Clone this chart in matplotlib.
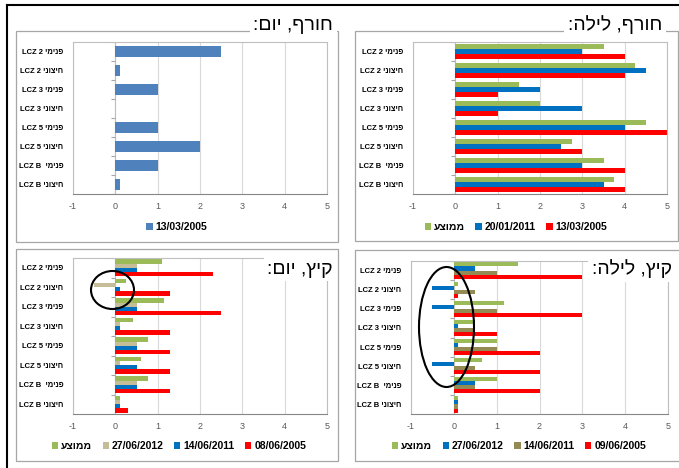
import re
import numpy as np
import matplotlib
matplotlib.use('Agg')
import matplotlib.pyplot as plt
from matplotlib.patches import Patch, Rectangle, Ellipse
from matplotlib.lines import Line2D

plt.rcParams['font.family'] = ['Liberation Sans', 'DejaVu Sans']
plt.rcParams['axes.unicode_minus'] = False

# category labels (logical Hebrew order)
categories = ['פנימי LCZ 2', 'חיצוני LCZ 2', 'פנימי LCZ 3', 'חיצוני LCZ 3',
              'פנימי LCZ 5', 'חיצוני LCZ 5', 'פנימי  LCZ B', 'חיצוני LCZ B']
avg_label = 'ממוצע'

# winter, day
wd_title = 'חורף, יום:'
wd_dates = ['13/03/2005']
wd_2005 = [2.5, 0.1, 1.0, 0.0, 1.0, 2.0, 1.0, 0.1]

# winter, night
wn_title = 'חורף, לילה:'
wn_dates = ['20/01/2011', '13/03/2005']
wn_avg = [3.5, 4.25, 1.5, 2.0, 4.5, 2.75, 3.5, 3.75]
wn_2011 = [3.0, 4.5, 2.0, 3.0, 4.0, 2.5, 3.0, 3.5]
wn_2005 = [4.0, 4.0, 1.0, 1.0, 5.0, 3.0, 4.0, 4.0]

# summer, day
sd_title = 'קיץ, יום:'
sd_dates = ['27/06/2012', '14/06/2011', '08/06/2005']
sd_avg = [1.1, 0.25, 1.15, 0.42, 0.76, 0.6, 0.76, 0.1]
sd_2012 = [0.5, -0.5, 0.5, 0.1, 0.5, 0.1, 0.5, 0.1]
sd_2011 = [0.5, 0.1, 0.5, 0.1, 0.5, 0.5, 0.5, 0.1]
sd_2005 = [2.3, 1.3, 2.5, 1.3, 1.3, 1.3, 1.3, 0.3]

# summer, night
sn_title = 'קיץ, לילה:'
sn_dates = ['27/06/2012', '14/06/2011', '09/06/2005']
sn_avg = [1.5, 0.1, 1.17, 0.5, 1.0, 0.65, 1.0, 0.1]
sn_2012 = [0.5, -0.5, -0.5, 0.1, 0.1, -0.5, 0.5, 0.1]
sn_2011 = [1.0, 0.5, 1.0, 0.5, 1.0, 0.5, 0.5, 0.1]
sn_2005 = [3.0, 0.1, 3.0, 1.0, 2.0, 2.0, 2.0, 0.1]

GREEN = '#9BBB59'
RED = '#FF0000'
BLUE = '#0070C0'
STEEL = '#4F81BD'
TAN = '#C4BD97'
OLIVE = '#948A54'

W, H = 679, 468


def fx(px):
    return px / W


def fy(py):
    return 1 - py / H


def vis(s):
    # no bidi lib: reverse the string, then put latin/digit runs back
    r = s[::-1]
    return re.sub(r'[A-Za-z0-9]+(?:[ ./][A-Za-z0-9]+)*', lambda m: m.group(0)[::-1], r)


fig = plt.figure(figsize=(W / 100, H / 100), dpi=100)


def panel(x0, y0, x1, y1):
    fig.add_artist(Rectangle((fx(x0), fy(y1)), fx(x1) - fx(x0), fy(y0) - fy(y1),
                             transform=fig.transFigure, fill=False,
                             edgecolor='#A6A6A6', lw=0.9, zorder=0))


def chart(box, series, colors, group):
    x0, y0, x1, y1 = box
    ax = fig.add_axes([fx(x0), fy(y1), fx(x1) - fx(x0), fy(y0) - fy(y1)])
    y = np.arange(len(categories))
    n = len(series)
    h = group / n
    for j, (vals, c) in enumerate(zip(series, colors)):
        ax.barh(y - group / 2 + h * (j + 0.5), vals, height=h, color=c, zorder=2)
    ax.set_xlim(-1, 5)
    ax.set_ylim(len(categories) - 0.5, -0.5)
    ax.set_xticks(range(-1, 6))
    ax.set_yticks(y, [vis(c) for c in categories], fontsize=5.5, fontweight='bold')
    ax.tick_params(axis='y', length=0, pad=7)
    ax.tick_params(axis='x', length=0, pad=6, labelsize=6.5, labelcolor='#595959')
    ax.grid(axis='x', color='#D9D9D9', lw=0.8)
    ax.set_axisbelow(True)
    for s in ax.spines.values():
        s.set_color('#BFBFBF')
        s.set_linewidth(0.8)
    ax.spines['bottom'].set_color('#868686')
    # vertical axis at 0 with category tick marks
    ax.axvline(0, color='#BFBFBF', lw=0.8, zorder=1)
    ax.plot(np.zeros(len(categories) + 1), np.arange(len(categories) + 1) - 0.5,
            ls='none', marker=0, ms=3, mew=0.8, color='#A6A6A6', zorder=1)
    return ax


def legend(cx, cy, labels, colors):
    handles = [Patch(facecolor=c) for c in colors]
    fig.legend(handles, labels, loc='center', bbox_to_anchor=(fx(cx), fy(cy)),
               ncol=len(labels), frameon=False, handlelength=0.6, handleheight=0.6,
               handletextpad=0.3, columnspacing=1.0,
               prop={'weight': 'bold', 'size': 7.5})


def title(x, y, s):
    fig.text(fx(x), fy(y), vis(s), ha='right', va='center', fontsize=14,
             bbox=dict(facecolor='white', edgecolor='none', pad=2.5), zorder=6)


# outer frame
fig.add_artist(Line2D([fx(7), fx(7)], [fy(5), 0], color='black', lw=1.5))
fig.add_artist(Line2D([fx(7), 1], [fy(5), fy(5)], color='black', lw=1.5))

panel(16, 31, 338, 242)
panel(355, 31, 678, 241)
panel(16, 249, 338, 461)
panel(355, 250, 690, 461)

chart((73, 42, 327, 194), [wd_2005], [STEEL], 0.56)
chart((413, 42, 667, 194), [wn_avg, wn_2011, wn_2005], [GREEN, BLUE, RED], 0.8)
chart((73, 258, 327, 414), [sd_avg, sd_2012, sd_2011, sd_2005],
      [GREEN, TAN, BLUE, RED], 0.85)
chart((411, 261, 668, 414), [sn_avg, sn_2012, sn_2011, sn_2005],
      [GREEN, BLUE, OLIVE, RED], 0.85)

legend(177, 227, wd_dates, [STEEL])
legend(516, 227, [vis(avg_label)] + wn_dates, [GREEN, BLUE, RED])
legend(179, 446, [vis(avg_label)] + sd_dates, [GREEN, TAN, BLUE, RED])
legend(519, 446, [vis(avg_label)] + sn_dates, [GREEN, BLUE, OLIVE, RED])

title(333, 25, wd_title)
title(662, 25, wn_title)
title(333, 269, sd_title)
title(672, 269, sn_title)

# hand-drawn highlight ellipses
fig.add_artist(Ellipse((fx(112.5), fy(290)), 43 / W, 38 / H, transform=fig.transFigure,
                       fill=False, edgecolor='black', lw=1.5, zorder=7))
fig.add_artist(Ellipse((fx(446.5), fy(327)), 55 / W, 120 / H, transform=fig.transFigure,
                       fill=False, edgecolor='black', lw=1.5, zorder=7))

fig.savefig('out.png', dpi=100)
